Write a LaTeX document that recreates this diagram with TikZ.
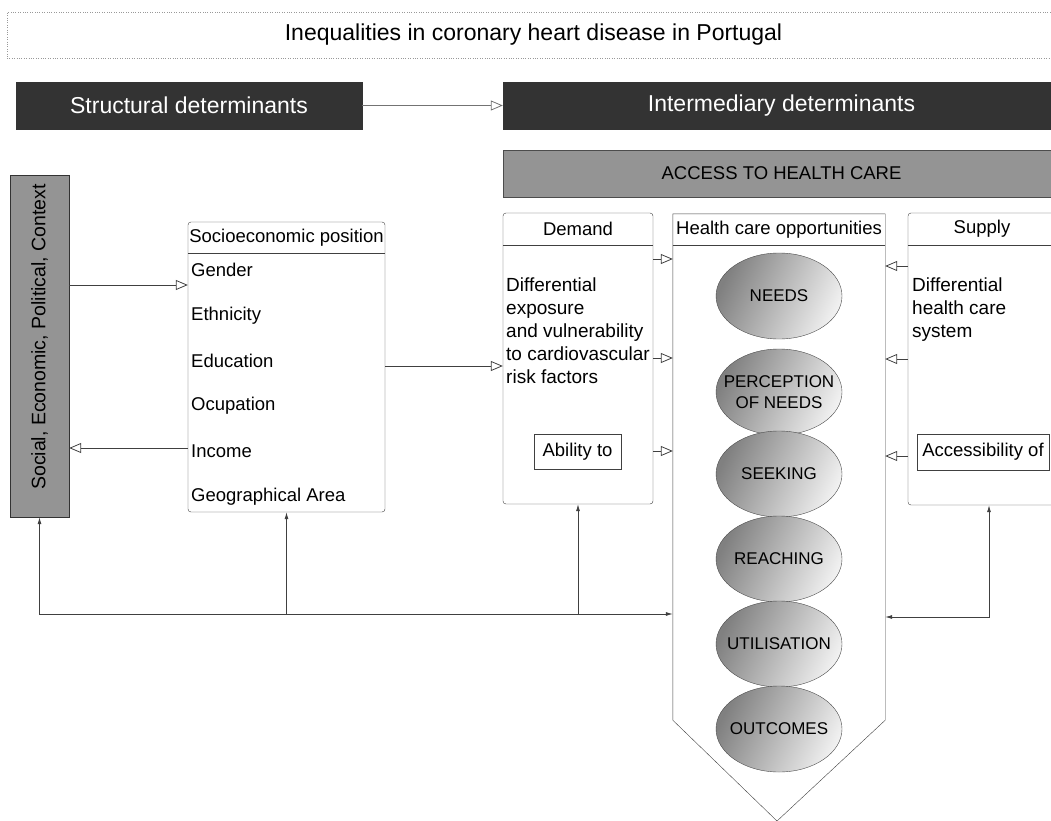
\documentclass[tikz,border=0pt]{standalone}
\usepackage{fontspec}
\setmainfont{Liberation Sans}
\usetikzlibrary{arrows.meta,shapes.geometric,positioning}

\begin{document}
\begin{tikzpicture}[
        x=1pt, y=-1pt,
        titlebox/.style={draw=black!40, dotted, inner sep=0pt, font=\fontsize{23}{26}\selectfont},
        darkbox/.style={draw=black!80, fill=black!80, text=white, inner sep=0pt, font=\fontsize{23}{26}\selectfont},
        graybox/.style={draw=black!70, fill=black!42, inner sep=0pt, font=\fontsize{18.5}{22}\selectfont},
        panel/.style={draw=black!75, rounded corners=3pt, fill=white, inner sep=0pt},
        plainbox/.style={draw=black!75, inner sep=0pt, font=\fontsize{18.5}{22}\selectfont},
        headtext/.style={inner sep=0pt, font=\fontsize{18.5}{22}\selectfont},
        entry/.style={anchor=west, inner sep=0pt, font=\fontsize{18.5}{22}\selectfont},
        bodytext/.style={anchor=north west, align=left, inner sep=0pt, font=\fontsize{19}{23}\selectfont},
        stage/.style={ellipse, draw=black!70, minimum width=126pt, minimum height=86pt, inner sep=0pt,
            left color=black!50, right color=black!6, shading angle=65},
        stagetext/.style={align=center, inner sep=0pt, font=\fontsize{17}{21}\selectfont},
        feed/.style={-{Triangle[open, length=12pt, width=10pt]}, draw=black!75, line width=0.8pt},
        uplink/.style={-{Latex[length=7pt, width=4pt]}, draw=black!75, line width=0.8pt},
        bothlink/.style={{Latex[length=7pt, width=4pt]}-{Latex[length=7pt, width=4pt]}, draw=black!75, line width=0.8pt}
    ]
        \useasboundingbox (0,0) rectangle (1051,821);

        % title and the two headings
        \node[titlebox, minimum width=1053pt, minimum height=46pt] (title) at (533.5,35) {Inequalities in coronary heart disease in Portugal};
        \node[darkbox, minimum width=346pt, minimum height=47pt] (struct) at (189,105.5) {Structural determinants};
        \node[darkbox, minimum width=557pt, minimum height=47pt] (inter) at (781.5,105.5) {Intermediary determinants};
        \draw[feed, draw=black!55] (struct) -- (inter);

        \node[graybox, minimum width=557pt, minimum height=47pt] (access) at (781.5,173.5) {ACCESS TO HEALTH CARE};

        % structural side
        \node[graybox, draw=black!80, minimum width=59pt, minimum height=342pt] (social) at (39.5,346) {};
        \node[headtext, rotate=90, font=\fontsize{19.5}{23}\selectfont] (socialtext) at (39.5,337) {Social, Economic, Political, Context};

        \node[panel, minimum width=197pt, minimum height=290pt] (socio) at (286.5,367) {};
        \draw[black!75] (socio.west |- 0,253) -- (socio.east |- 0,253);
        \node[headtext] (sociohead) at (286.5,238) {Socioeconomic position};
        \foreach \name [count=\i] in {Gender, Ethnicity, Education, Ocupation, Income, Geographical Area}
            \node[entry] (se\i) at (191,224.6+45.4*\i) {\name};

        \draw[feed] (social.east |- 0,285) -- (socio.west |- 0,285);
        \draw[feed] (socio.west |- 0,448) -- (social.east |- 0,448);

        % demand
        \node[panel, minimum width=150pt, minimum height=291pt] (demand) at (578,358.5) {};
        \draw[black!75] (demand.west |- 0,245) -- (demand.east |- 0,245);
        \node[headtext] (demandhead) at (578,229) {Demand};
        \node[bodytext] (demandtext) at (506,278) {Differential\\exposure\\and vulnerability\\to cardiovascular\\risk factors};
        \node[plainbox, minimum width=87pt, minimum height=35pt] (ability) at (577.5,451.5) {Ability to};

        \draw[feed] (socio.east |- 0,366) -- (demand.west |- 0,366);

        % health care opportunities
        \node[minimum width=212pt, minimum height=506pt, inner sep=0pt] (hco) at (779,467) {};
        \coordinate (hcotip) at (777,821);
        \draw[black!75, fill=white] (hco.south west) -- (hco.north west) -- (hco.north east) -- (hco.south east) -- (hcotip) -- cycle;
        \draw[black!75] (hco.west |- 0,245) -- (hco.east |- 0,245);
        \node[headtext] (hcohead) at (779,230) {Health care opportunities};
        \foreach \label/\y [count=\i] in {NEEDS/296, {PERCEPTION\\OF NEEDS}/392, SEEKING/474, REACHING/559, UTILISATION/644, OUTCOMES/729}
            \node[stage, label={[stagetext]center:\label}] (stage\i) at (779,\y) {};

        % supply
        \node[panel, minimum width=150pt, minimum height=292pt] (supply) at (983,359) {};
        \draw[black!75] (supply.west |- 0,245) -- (supply.east |- 0,245);
        \node[headtext] (supplyhead) at (982,229) {Supply};
        \node[bodytext] (supplytext) at (912,278) {Differential\\health care\\system};
        \node[plainbox, minimum width=132pt, minimum height=36pt] (accessib) at (983,452) {Accessibility of};

        \foreach \y in {259,358,451}
            \draw[feed] (demand.east |- 0,\y) -- (hco.west |- 0,\y);
        \foreach \y in {266,359,456}
            \draw[feed] (supply.west |- 0,\y) -- (hco.east |- 0,\y);

        % feedback lines at the bottom
        \coordinate (busL) at (39.5,614);
        \coordinate (busR) at (989,617);
        \draw[bothlink] (social.south) |- (hco.west |- busL);
        \draw[uplink] (socio.south |- busL) -- (socio.south);
        \draw[uplink] (demand.south |- busL) -- (demand.south);
        \draw[bothlink] (busR |- supply.south) |- (hco.east |- busR);
    \end{tikzpicture}
\end{document}
